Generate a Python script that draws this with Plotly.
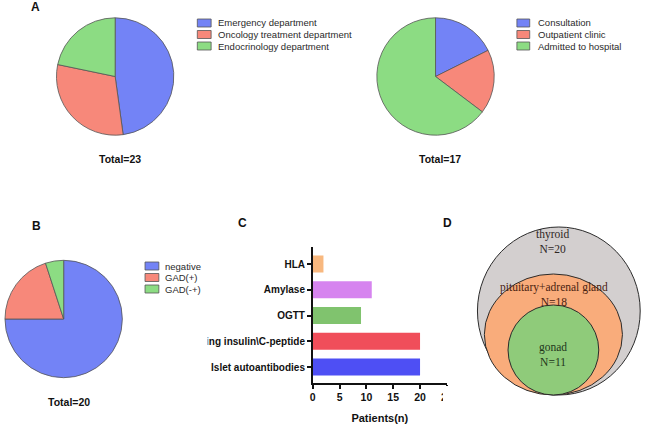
import plotly.graph_objects as go

W, H = 661, 429

# ---------------- data ----------------
dept_labels = ["Emergency department", "Oncology treatment department", "Endocrinology department"]
dept_values = [11, 7, 5]

visit_labels = ["Consultation", "Outpatient clinic", "Admitted to hospital"]
visit_values = [3, 3, 11]

gad_labels = ["negative", "GAD(+)", "GAD(-+)"]
gad_values = [15, 4, 1]

test_labels = ["Islet autoantibodies", "Fasting insulin\\C-peptide", "OGTT", "Amylase", "HLA"]
test_values = [20, 20, 9, 11, 2]
x_ticks = [0, 5, 10, 15, 20, 25]

venn_sets = ["thyroid", "pituitary+adrenal gland", "gonad"]
venn_n = [20, 18, 11]

# ---------------- styles ----------------
pie_colors = ["#7383F6", "#F7887A", "#8CDC83"]
bar_colors = ["#4E4FF4", "#F04E5A", "#80C36E", "#D684EF", "#F8B87F"]
venn_colors = ["#D3CFCF", "#F9AC7B", "#8FCB7A"]
venn_text_colors = ["#2e2624", "#4a2210", "#22361a"]
FONT = "Liberation Sans, Arial, sans-serif"


def px(x):
    return x / W


def py(y):
    return 1 - y / H


fig = go.Figure()


def add_pie(labels, values, cx, cy, r):
    fig.add_trace(go.Pie(
        labels=labels, values=values, sort=False, direction="clockwise", rotation=0,
        textinfo="none", hoverinfo="label+value", showlegend=False,
        marker=dict(colors=pie_colors, line=dict(color="#555555", width=0.8)),
        domain=dict(x=[px(cx - r), px(cx + r)], y=[py(cy + r), py(cy - r)]),
    ))


add_pie(dept_labels, dept_values, 113.7, 76.5, 59.5)
add_pie(visit_labels, visit_values, 438.5, 76.5, 59.5)
add_pie(gad_labels, gad_values, 61.5, 319, 59.5)

# bar chart C
fig.add_trace(go.Bar(
    y=test_labels, x=test_values, orientation="h",
    marker=dict(color=bar_colors, line=dict(width=0)),
    width=0.66, showlegend=False, xaxis="x", yaxis="y",
))

shapes = []
annotations = []


def legend(labels, x_sw, x_txt, ys, sw_w=14):
    for lab, col, yy in zip(labels, pie_colors, ys):
        shapes.append(dict(type="rect", xref="paper", yref="paper",
                           x0=px(x_sw), x1=px(x_sw + sw_w), y0=py(yy + 4), y1=py(yy - 4),
                           fillcolor=col, line=dict(color="#555555", width=0.8)))
        annotations.append(dict(text=lab, x=px(x_txt), y=py(yy), xref="paper", yref="paper",
                                xanchor="left", yanchor="middle", showarrow=False,
                                font=dict(family=FONT, size=9.5, color="#2a2a2a")))


legend(dept_labels, 197, 216, [23, 34.5, 46])
legend(visit_labels, 521, 540, [23, 34.5, 46], sw_w=13)
legend(gad_labels, 144, 162, [266, 277.5, 289])


def txt(t, x, y, size=11, color="#111111", family=FONT):
    annotations.append(dict(text=t, x=px(x), y=py(y),
                            xref="paper", yref="paper", xanchor="center", yanchor="middle",
                            showarrow=False, font=dict(family=family, size=size, color=color, weight="bold")))


txt("A", 33, 7, 12)
txt("B", 34, 226, 12)
txt("C", 243, 223, 12)
txt("D", 451, 223, 12)
txt("Total=%d" % sum(dept_values), 119, 159, 10.5)
txt("Total=%d" % sum(visit_values), 443, 159, 10.5)
txt("Total=%d" % sum(gad_values), 67, 402, 10.5)

# Venn diagram D (pixel geometry in its own axis)
venn_geom = [(481, 227, 646, 395), (488, 274, 628, 395), (512, 305, 604, 395)]
venn_text_pos = [(557, 241), (559, 294), (558, 354)]
for (x0, y0, x1, y1), col in zip(venn_geom, venn_colors):
    shapes.append(dict(type="circle", xref="x3", yref="y3", x0=x0, x1=x1, y0=y0, y1=y1,
                       fillcolor=col, line=dict(color="#2b2b2b", width=1), layer="above"))
for name, n, (tx, ty), tc in zip(venn_sets, venn_n, venn_text_pos, venn_text_colors):
    annotations.append(dict(text="%s<br>N=%d" % (name, n), x=tx, y=ty, xref="x3", yref="y3",
                            xanchor="center", yanchor="middle", showarrow=False,
                            font=dict(family="Liberation Serif, Times New Roman, serif", size=11.5, color=tc)))

# crops mimicking the cut panel edges
shapes.append(dict(type="rect", xref="paper", yref="paper", x0=px(150), x1=px(207.5),
                   y0=py(352), y1=py(328), fillcolor="white", line=dict(width=0), layer="above"))
shapes.append(dict(type="rect", xref="paper", yref="paper", x0=px(446), x1=px(462),
                   y0=py(405), y1=py(386), fillcolor="white", line=dict(width=0), layer="above"))

tickfont = dict(family=FONT, size=10.5, color="#111111", weight="bold")
fig.update_layout(
    width=W, height=H, margin=dict(l=0, r=0, t=0, b=0),
    paper_bgcolor="white", plot_bgcolor="white",
    font=dict(family=FONT, color="#111111"),
    xaxis=dict(domain=[px(314), px(450)], range=[0, 25], tickvals=x_ticks,
               showline=True, linecolor="#111111", linewidth=1.5, ticks="outside",
               ticklen=4, tickwidth=1.5, tickcolor="#111111", showgrid=False, zeroline=False,
               tickfont=tickfont,
               title=dict(text="Patients(n)", font=dict(family=FONT, size=11, color="#111111", weight="bold"), standoff=12),
               anchor="y", fixedrange=True),
    yaxis=dict(domain=[py(383), py(247)], range=[-0.62, 4.66], type="category",
               showline=True, linecolor="#111111", linewidth=1.5, ticks="outside",
               ticklen=4, tickwidth=1.5, tickcolor="#111111", showgrid=False, zeroline=False,
               tickfont=dict(family=FONT, size=10, color="#111111", weight="bold"),
               anchor="x", fixedrange=True),
    xaxis3=dict(domain=[px(460), 1], range=[460, 661], visible=False, anchor="y3", fixedrange=True),
    yaxis3=dict(domain=[0, py(215)], range=[429, 215], visible=False, anchor="x3", fixedrange=True),
    shapes=shapes, annotations=annotations,
)

fig.write_html("out.html",
               post_script="document.body.style.margin='0px';document.documentElement.style.overflow='hidden';",
               config={"displayModeBar": False})
